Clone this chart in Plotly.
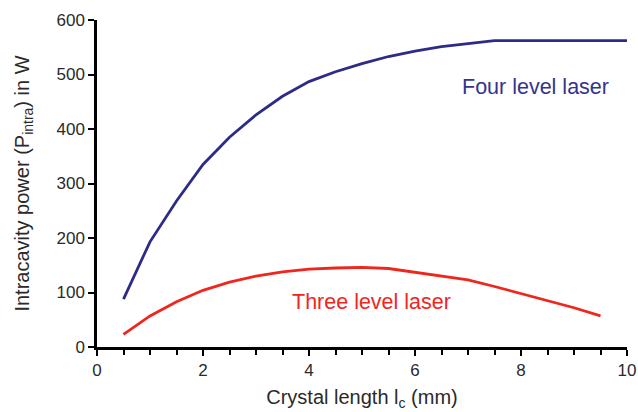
import plotly.graph_objects as go

# Crystal length (mm) and intracavity power (W)
x_four = [0.5, 1, 1.5, 2, 2.5, 3, 3.5, 4, 4.5, 5, 5.5, 6, 6.5, 7, 7.5, 10]
p_four = [88, 193, 268, 335, 385, 426, 460, 487, 505, 520, 533, 543, 551, 557, 562, 562]

x_three = [0.5, 1, 1.5, 2, 2.5, 3, 3.5, 4, 4.5, 5, 5.5, 6, 6.5, 7, 7.5, 8, 8.5, 9, 9.5]
p_three = [23, 57, 83, 104, 119, 130, 138, 143, 145, 146, 144, 137, 131, 123, 111, 98, 85, 72, 57]

x_ticks = [0, 2, 4, 6, 8, 10]
y_ticks = [0, 100, 200, 300, 400, 500, 600]

BLUE = "#2c2c86"
RED = "#f0261e"
TEXT = "#2a2a2a"
FONT = "Liberation Sans, Arial, sans-serif"

fig = go.Figure()
fig.add_trace(go.Scatter(x=x_four, y=p_four, mode="lines",
                         line=dict(color=BLUE, width=2.8), showlegend=False))
fig.add_trace(go.Scatter(x=x_three, y=p_three, mode="lines",
                         line=dict(color=RED, width=2.8), showlegend=False))

fig.add_annotation(x=8.28, y=477, text="Four level laser", showarrow=False,
                   font=dict(family=FONT, size=21.5, color="#34348c"))
fig.add_annotation(x=5.17, y=83, text="Three level laser", showarrow=False,
                   font=dict(family=FONT, size=21.5, color=RED))

fig.update_xaxes(
    range=[0, 10], tickvals=x_ticks, ticks="outside", ticklen=6, tickwidth=2,
    tickcolor="black", showline=True, linecolor="black", linewidth=2.5,
    showgrid=False, zeroline=False, automargin=False,
    minor=dict(dtick=0.5, ticks="outside", ticklen=5, tickwidth=2, tickcolor="black", showgrid=False),
    tickfont=dict(family=FONT, size=17, color=TEXT),
    title=dict(text="Crystal length l<sub>c</sub> (mm)", standoff=11,
               font=dict(family=FONT, size=20, color=TEXT)),
)
fig.update_yaxes(
    range=[0, 600], tickvals=y_ticks, ticks="outside", ticklen=6, tickwidth=2,
    tickcolor="black", showline=True, linecolor="black", linewidth=2.5,
    showgrid=False, zeroline=False, automargin=False,
    tickfont=dict(family=FONT, size=17, color=TEXT),
    title=dict(text="Intracavity power (P<sub>intra</sub>) in W", standoff=22,
               font=dict(family=FONT, size=20, color=TEXT)),
)

fig.update_layout(
    width=638, height=412,
    margin=dict(l=97, r=11, t=20, b=65),
    paper_bgcolor="white", plot_bgcolor="white",
)

fig.write_html("out.html")
